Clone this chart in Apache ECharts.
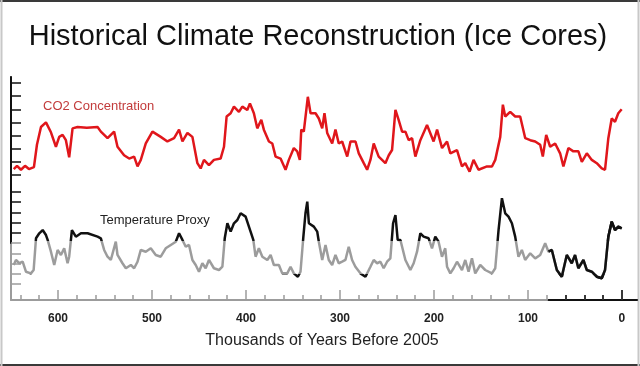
<!DOCTYPE html>
<html><head><meta charset="utf-8">
<script src="https://cdn.jsdelivr.net/npm/echarts@6/dist/echarts.min.js"></script>
<style>html,body{margin:0;padding:0;background:#fff}#c{width:640px;height:366px}</style>
</head><body><div id="c"></div>
<script>
// Thousands of years before 2005
const co2Years=[647.1,643.6,639.4,635.1,630.9,625.6,622.4,618.1,612.8,607.5,
602.2,598.7,595.1,591.6,588.1,584.5,579.2,569.3,557.9,554.4,
547.3,540.3,536.7,529.7,524.3,519.0,515.4,511.9,506.6,499.5,
490.7,483.6,476.5,471.2,467.6,462.3,457.0,451.7,448.2,444.7,
439.4,434.1,427.0,423.4,420.6,416.3,412.8,407.5,403.9,398.6,
395.8,391.6,388.0,383.7,381.0,375.6,372.0,368.5,363.2,357.9,
354.4,349.1,345.5,342.7,341.2,338.5,334.2,331.3,326.0,322.5,
318.9,316.5,313.6,308.3,304.8,301.3,297.7,292.3,288.8,283.5,
280.0,274.7,271.1,267.6,264.1,258.8,251.7,248.1,244.6,241.0,
237.6,233.9,230.4,226.9,223.3,219.8,214.5,207.4,200.4,196.7,
191.4,186.1,182.6,175.5,170.2,166.7,162.1,157.9,152.6,143.6,
138.3,134.8,129.5,126.7,124.2,118.9,113.6,108.3,102.9,97.6,
92.3,87.0,84.2,80.6,76.4,71.1,65.8,62.3,57.0,51.7,
46.3,42.7,37.4,32.1,26.8,21.5,18.0,14.5,10.9,7.4,
3.9,0.3];
// CO2 (ppmv)
const co2Values=[189,194,188,194,189,192,226,253,260,245,
223,238,241,233,207,251,253,252,253,246,
236,246,223,210,205,208,193,203,228,246,
238,231,236,249,231,244,238,198,190,203,
195,203,205,223,269,274,284,276,284,279,
289,274,251,264,249,231,228,208,205,188,
203,221,216,203,249,246,299,274,274,266,
251,274,244,228,249,228,231,208,231,231,
213,198,188,203,228,208,198,210,218,279,
264,246,246,233,236,208,233,256,231,249,
221,231,213,218,193,198,185,203,188,193,
193,203,238,287,269,276,269,269,236,233,
231,226,208,241,223,228,213,193,221,216,
216,200,213,203,198,190,188,236,266,261,
274,280];
const tempYears=[647.1,644.7,641.2,637.6,634.1,628.8,625.9,623.4,619.9,616.3,
612.8,611.0,607.5,604.0,600.4,596.9,593.4,589.8,588.1,585.2,
581.0,575.6,568.5,557.9,554.4,550.9,547.3,543.8,538.5,536.7,
531.4,527.8,522.5,519.0,515.4,511.9,506.6,501.3,496.0,490.7,
485.4,480.0,474.7,471.2,467.6,464.1,460.6,457.0,453.5,450.0,
446.4,442.9,439.4,434.1,428.7,425.1,422.6,419.8,416.3,412.8,
409.2,405.7,400.4,395.1,392.2,389.8,386.3,382.6,377.3,373.8,
370.3,365.0,361.4,356.1,352.6,349.1,344.8,342.0,339.1,336.7,
334.8,333.1,327.8,324.2,322.5,318.9,315.4,311.9,308.3,304.8,
301.3,297.7,294.2,290.7,287.1,283.6,278.3,272.9,267.6,264.1,
260.5,257.0,253.5,249.9,246.4,243.5,241.0,238.6,235.7,230.4,
225.1,221.6,218.0,214.5,211.0,205.7,202.1,198.6,195.1,191.5,
188.0,186.1,182.6,179.1,175.5,170.2,166.7,163.2,159.6,156.1,
150.8,145.5,138.3,134.8,131.3,127.7,124.2,120.7,117.1,113.6,
110.1,106.5,103.0,97.6,92.3,87.0,81.7,78.2,74.6,69.3,
64.0,58.7,53.4,49.9,46.4,41.0,37.4,32.1,26.8,21.5,
18.0,14.5,10.9,7.4,3.9,0.3];
// Temperature anomaly proxy (deg C)
const tempValues=[-4.14,-3.65,-3.97,-3.82,-4.80,-4.96,-4.63,-1.53,-1.04,-0.72,
-1.21,-1.69,-2.84,-4.14,-2.67,-3.16,-2.51,-3.97,-3.33,-0.72,
-1.37,-1.04,-1.04,-1.37,-1.53,-2.67,-3.33,-3.65,-1.86,-3.16,
-3.97,-4.46,-4.14,-4.46,-3.82,-2.67,-2.84,-2.51,-3.16,-3.33,
-2.51,-2.18,-1.86,-1.04,-1.69,-2.35,-2.18,-3.65,-4.14,-4.80,
-3.97,-4.46,-3.65,-4.46,-4.63,-4.31,-1.53,-0.06,-0.88,-0.06,
0.26,0.92,0.59,-0.88,-1.69,-3.33,-2.51,-3.33,-3.65,-3.16,
-4.14,-4.14,-4.96,-4.96,-4.31,-4.96,-5.29,-4.80,-1.53,0.92,
2.05,-0.06,-0.39,-0.88,-1.86,-3.65,-2.18,-3.65,-4.14,-3.16,
-3.97,-3.82,-3.65,-2.35,-3.65,-4.31,-4.96,-5.29,-4.31,-3.65,
-3.97,-3.82,-4.46,-3.82,-3.49,-0.06,0.75,-1.69,-1.69,-3.65,
-4.63,-3.97,-2.84,-1.04,-1.37,-1.53,-2.51,-1.37,-1.86,-3.33,
-2.51,-4.31,-4.96,-4.46,-3.82,-4.63,-3.65,-4.80,-3.49,-4.96,
-4.14,-4.63,-4.96,-4.46,-0.72,2.39,0.92,0.59,-0.06,-1.37,
-3.33,-2.67,-3.65,-3.00,-3.49,-3.16,-2.02,-2.84,-2.67,-4.63,
-5.29,-3.16,-3.97,-3.16,-4.46,-3.65,-4.63,-4.80,-5.29,-5.44,
-4.63,-1.37,0.10,-0.72,-0.39,-0.55];
const xMajorTicks=[0,100,200,300,400,500,600];
const xMinorTicks=[20,40,60,80,120,140,160,180,220,240,260,280,320,340,360,380,420,440,460,480,520,540,560,580,620,640];
const recentMajorTicks=[0];
const recentMinorTicks=[20,40,60];
const xTitle='Thousands of Years Before 2005';
const chartTitle='Historical Climate Reconstruction (Ice Cores)';

const XMIN=-16, XMAX=650, GL=11, GW=626, SPLIT=78;
const pxPer=GW/(XMAX-XMIN);
const FONT='"Liberation Sans", Arial, sans-serif';
const GRAY='#9c9c9c', BLACK='#111';

function hx(extra){return Object.assign({type:'value',min:XMIN,max:XMAX,inverse:true,show:false,axisLine:{onZero:false}},extra||{});}
function hy(extra){return Object.assign({type:'value',show:false,axisLine:{onZero:false}},extra||{});}

const blackLeft=GL+(XMAX-SPLIT)*pxPer;
const grids=[
 {left:GL,top:77,width:GW,height:223},
 {left:GL,top:77,width:GW,height:223},
 {left:blackLeft,top:77,width:GL+GW-blackLeft,height:223},
 {left:blackLeft,top:77,width:GL+GW-blackLeft,height:223},
 {left:GL,top:77,width:GW,height:166},
 {left:GL,top:83,width:GW,height:92},
 {left:GL,top:192,width:GW,height:92*4/9},
 {left:GL,top:192+92*5/9,width:GW,height:92*4/9},
 {left:GL,top:192,width:GW,height:92}
];
const xAxes=[
 hx({gridIndex:0,show:true,position:'bottom',axisLine:{show:true,onZero:false,lineStyle:{color:GRAY,width:2}},
   axisTick:{show:true,inside:true,length:10,customValues:xMajorTicks,lineStyle:{color:GRAY,width:1.5}},
   axisLabel:{show:true,customValues:xMajorTicks,margin:13,fontFamily:FONT,fontSize:12,fontWeight:'bold',color:'#222'},
   splitLine:{show:false}}),
 hx({gridIndex:1,show:true,position:'bottom',axisLine:{show:false,onZero:false},
   axisTick:{show:true,inside:true,length:5,customValues:xMinorTicks,lineStyle:{color:GRAY,width:1.5}},
   axisLabel:{show:false},splitLine:{show:false}}),
 {type:'value',gridIndex:2,position:'bottom',min:XMIN,max:SPLIT,inverse:true,axisLine:{show:true,onZero:false,lineStyle:{color:BLACK,width:2}},
   axisTick:{show:true,inside:true,length:10,customValues:recentMajorTicks,lineStyle:{color:BLACK,width:1.5}},
   axisLabel:{show:false},splitLine:{show:false}},
 {type:'value',gridIndex:3,position:'bottom',min:XMIN,max:SPLIT,inverse:true,axisLine:{show:false,onZero:false},
   axisTick:{show:true,inside:true,length:5,customValues:recentMinorTicks,lineStyle:{color:BLACK,width:1.5}},
   axisLabel:{show:false},splitLine:{show:false}},
 hx({gridIndex:4}),hx({gridIndex:5}),hx({gridIndex:6}),hx({gridIndex:7}),hx({gridIndex:8})
];
function tickY(grid,min,max,interval,color,line){
 return {type:'value',gridIndex:grid,position:'left',min:min,max:max,interval:interval,
  axisLine:{show:!!line,onZero:false,lineStyle:{color:line||color,width:2}},
  axisTick:{show:interval>0,inside:true,length:10,lineStyle:{color:color,width:1.5}},
  axisLabel:{show:false},splitLine:{show:false}};
}
const yAxes=[
 tickY(0,0,1,0,GRAY,GRAY),
 hy({gridIndex:1,min:0,max:1}),
 hy({gridIndex:2,min:0,max:1}),
 hy({gridIndex:3,min:0,max:1}),
 tickY(4,0,1,0,BLACK,BLACK),
 tickY(5,180,320,20,BLACK,null),
 tickY(6,-1,3,1,BLACK,null),
 tickY(7,-6,-2,1,GRAY,null),
 hy({gridIndex:8,min:-6,max:3})
];
const co2Data=co2Years.map((y,i)=>[y,co2Values[i]]);
const tempData=tempYears.map((y,i)=>[y,tempValues[i]]);
const tempRecent=tempData.filter(d=>d[0]<=SPLIT+0.5);

const chart=echarts.init(document.getElementById('c'),null,{renderer:'canvas'});
chart.setOption({
 animation:false,
 backgroundColor:'#fff',
 grid:grids, xAxis:xAxes, yAxis:yAxes,
 visualMap:[{type:'piecewise',show:false,seriesIndex:1,dimension:1,
   pieces:[{lt:-5,color:BLACK},{gte:-5,lt:-1.75,color:GRAY},{gte:-1.75,color:BLACK}]}],
 series:[
  {type:'line',name:'CO2 Concentration',xAxisIndex:5,yAxisIndex:5,data:co2Data,showSymbol:false,silent:true,
   lineStyle:{color:'#e0161b',width:2.5},itemStyle:{color:'#e0161b'}},
  {type:'line',name:'Temperature Proxy',xAxisIndex:8,yAxisIndex:8,data:tempData,showSymbol:false,silent:true,
   lineStyle:{width:2.5}},
  {type:'line',name:'Temperature Proxy recent',xAxisIndex:8,yAxisIndex:8,data:tempRecent,showSymbol:false,silent:true,
   lineStyle:{color:BLACK,width:2.5},itemStyle:{color:BLACK}}
 ],
 graphic:[
  {type:'text',x:318,y:37,style:{text:chartTitle,font:'29px '+FONT,fill:'#111',align:'center',verticalAlign:'middle'}},
  {type:'text',x:43,y:106,style:{text:'CO2 Concentration',font:'13px '+FONT,fill:'#c23b3b',align:'left',verticalAlign:'middle'}},
  {type:'text',x:100,y:220,style:{text:'Temperature Proxy',font:'13px '+FONT,fill:'#222',align:'left',verticalAlign:'middle'}},
  {type:'text',x:322,y:341,style:{text:xTitle,font:'16px '+FONT,fill:'#222',align:'center',verticalAlign:'middle'}},
  {type:'line',shape:{x1:0,y1:1,x2:640,y2:1},style:{stroke:'#3a3a3a',lineWidth:2}},
  {type:'line',shape:{x1:0,y1:365,x2:640,y2:365},style:{stroke:'#3a3a3a',lineWidth:2}},
  {type:'line',shape:{x1:1.5,y1:0,x2:1.5,y2:366},style:{stroke:'#c8c8c8',lineWidth:2}},
  {type:'line',shape:{x1:638.5,y1:0,x2:638.5,y2:366},style:{stroke:'#c8c8c8',lineWidth:2}}
 ]
});
</script></body></html>
